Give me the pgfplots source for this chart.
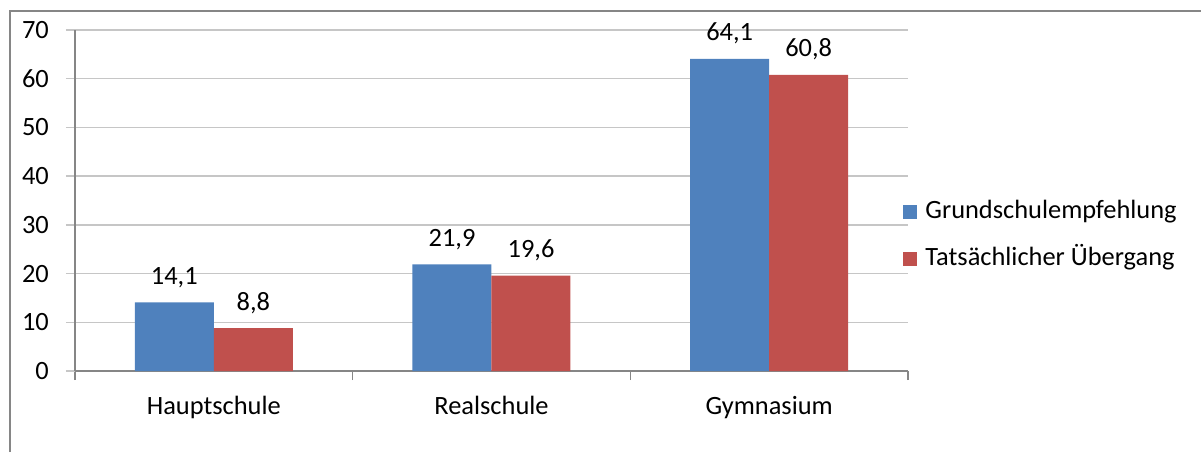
\documentclass[border=0pt]{standalone}
\usepackage{fontspec}
\setmainfont{Carlito}
\usepackage{pgfplots}
\pgfplotsset{compat=1.18}
\definecolor{serieA}{HTML}{4F81BD}
\definecolor{serieB}{HTML}{C0504D}
\definecolor{gridgray}{HTML}{C6C6C6}
\definecolor{axisgray}{HTML}{868686}
\begin{document}
\fontsize{13.2pt}{15.8pt}\selectfont
\begin{tikzpicture}
\useasboundingbox (0,0) rectangle (600.5pt,226pt);
\begin{axis}[
  at={(37.5pt,40.5pt)}, anchor=south west,
  scale only axis, width=416.5pt, height=170.5pt,
  ybar=0pt, bar width=39.5pt,
  xmin=-0.5, xmax=2.5, ymin=0, ymax=70,
  xtick={-0.5,0.5,1.5,2.5}, xticklabels={},
  extra x ticks={0,1,2},
  extra x tick labels={Hauptschule,Realschule,Gymnasium},
  extra x tick style={major tick length=0pt, grid=none},
  ytick={0,10,...,70},
  axis lines*=left,
  axis line style={axisgray, line width=0.75pt},
  tick align=outside,
  major tick length=4.5pt,
  xtick style={axisgray, line width=0.75pt},
  ytick style={gridgray, line width=0.75pt},
  ymajorgrids, xmajorgrids=false,
  grid style={gridgray, line width=0.75pt},
  /pgf/number format/assume math mode=true,
  x tick label style={anchor=base, yshift=-21.5pt},
  y tick label style={anchor=east, xshift=-4pt},
  nodes near coords={\pgfmathprintnumber[fixed,fixed zerofill,precision=1,use comma,assume math mode=true]{\pgfplotspointmeta}},
  nodes near coords style={anchor=base, yshift=9pt, inner sep=0pt, text=black},
  legend style={at={(0.994,0.397)}, anchor=west, draw=none, fill=none,
    inner sep=0pt, row sep=11.5pt,
    nodes={inner sep=0pt, text height=9pt, text depth=3pt},
    /tikz/every odd column/.append style={column sep=4pt}},
  legend cell align=left,
  legend image code/.code={\draw[#1, draw=none] (0pt,-3.5pt) rectangle (7pt,3.5pt);},
]
\addplot[fill=serieA, draw=none] coordinates {(0,14.1) (1,21.9) (2,64.1)};
\addplot[fill=serieB, draw=none] coordinates {(0,8.8) (1,19.6) (2,60.8)};
\legend{Grundschulempfehlung, Tatsächlicher Übergang}
\end{axis}
\draw[axisgray, line width=0.75pt] (5pt,0pt) -- (5pt,220.5pt) -- (600.5pt,220.5pt);
\end{tikzpicture}
\end{document}
